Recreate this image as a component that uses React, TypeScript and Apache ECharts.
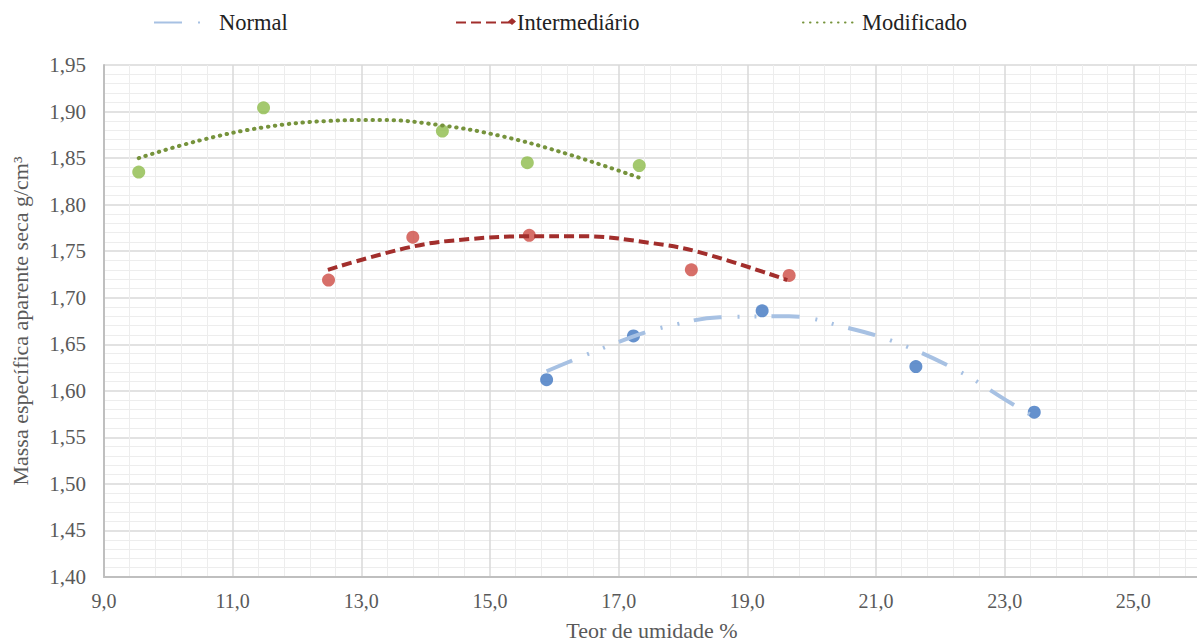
import React, { useEffect, useRef } from "react";
import * as echarts from "echarts";

// Measured points (Teor de umidade %, Massa específica g/cm³)
const normalX = [15.88, 17.23, 19.23, 21.62, 23.46];
const normalY = [1.612, 1.659, 1.686, 1.626, 1.577];
const interX = [12.49, 13.8, 15.61, 18.13, 19.65];
const interY = [1.719, 1.765, 1.767, 1.73, 1.724];
const modX = [9.54, 11.48, 14.26, 15.58, 17.32];
const modY = [1.835, 1.904, 1.879, 1.845, 1.842];

// Trendlines
const normalTrendX = [15.88, 17.21, 17.87, 18.57, 19.65, 20.54, 21.31, 22.29, 23.02, 23.46];
const normalTrendY = [1.621, 1.658, 1.671, 1.679, 1.68, 1.668, 1.652, 1.621, 1.59, 1.572];
const interTrendX = [12.48, 13.8, 14.68, 15.61, 16.44, 17.48, 18.25, 19.62];
const interTrendY = [1.73, 1.755, 1.763, 1.766, 1.766, 1.759, 1.749, 1.719];
const modTrendX = [9.54, 10.49, 11.48, 12.51, 13.29, 14.26, 15.15, 16.08, 17.32];
const modTrendY = [1.85, 1.869, 1.883, 1.89, 1.891, 1.885, 1.874, 1.857, 1.829];

const seriesNames = ["Normal", "Intermediário", "Modificado"];
const xTitle = "Teor de umidade %";
const yTitle = "Massa específica aparente seca g/cm³";

const zip = (xs: number[], ys: number[]) => xs.map((x, i) => [x, ys[i]]);

const FONT = "Liberation Serif";

export default function App() {
  const ref = useRef<HTMLDivElement>(null);
  useEffect(() => {
    if (!ref.current) return;
    const chart = echarts.init(ref.current, undefined, { renderer: "svg" });
    const legendBase = {
      top: 11,
      padding: 0,
      itemHeight: 14,
      selectedMode: false,
      itemStyle: { opacity: 0 },
      textStyle: { fontFamily: FONT, fontSize: 22.5, color: "#222222" },
    };
    chart.setOption({
      animation: false,
      textStyle: { fontFamily: FONT },
      legend: [
        { ...legendBase, data: [seriesNames[0]], left: 153, itemWidth: 48, textStyle: { ...legendBase.textStyle, padding: [0, 0, 0, 12] } },
        { ...legendBase, data: [seriesNames[1]], left: 455, itemWidth: 56 },
        { ...legendBase, data: [seriesNames[2]], left: 802, itemWidth: 54 },
      ],
      graphic: [
        {
          type: "text",
          x: 652,
          y: 619,
          style: {
            text: xTitle,
            fontFamily: FONT,
            fontSize: 22,
            fill: "#595959",
            textAlign: "center",
            textVerticalAlign: "top",
          },
        },
        {
          type: "polygon",
          shape: { points: [[512, 18], [516, 21.5], [512, 25], [508, 21.5]] },
          style: { fill: "#A22E2C" },
        },
      ],
      grid: { left: 104, right: 0, top: 65, bottom: 65, containLabel: false },
      xAxis: {
        type: "value",
        min: 9,
        max: 27,
        interval: 2,
        axisLine: { show: true, lineStyle: { color: "#BFBFBF", width: 2 } },
        axisTick: { show: false },
        axisLabel: {
          fontFamily: FONT,
          fontSize: 20,
          color: "#595959",
          margin: 14,
          showMaxLabel: false,
          formatter: (v: number) => v.toFixed(1).replace(".", ","),
        },
        splitLine: { show: true, lineStyle: { color: "#D9D9D9", width: 1.5 } },
        minorTick: { show: false, splitNumber: 5 },
        minorSplitLine: { show: true, lineStyle: { color: "#EDEDED", width: 1 } },
      },
      yAxis: {
        type: "value",
        min: 1.4,
        max: 1.95,
        interval: 0.05,
        name: yTitle,
        nameLocation: "middle",
        nameGap: 73,
        nameTextStyle: { fontFamily: FONT, fontSize: 22, color: "#595959" },
        axisLine: { show: true, lineStyle: { color: "#BFBFBF", width: 2 } },
        axisTick: { show: false },
        axisLabel: {
          fontFamily: FONT,
          fontSize: 21,
          color: "#595959",
          margin: 18,
          formatter: (v: number) => v.toFixed(2).replace(".", ","),
        },
        splitLine: { show: true, lineStyle: { color: "#D9D9D9", width: 1.5 } },
        minorTick: { show: false, splitNumber: 5 },
        minorSplitLine: { show: true, lineStyle: { color: "#EDEDED", width: 1 } },
      },
      series: [
        {
          name: "Normal (dados)",
          type: "scatter",
          data: zip(normalX, normalY),
          symbolSize: 13,
          itemStyle: { color: "#3F76C1" },
          z: 2,
          silent: true,
        },
        {
          name: "Intermediário (dados)",
          type: "scatter",
          data: zip(interX, interY),
          symbolSize: 13,
          itemStyle: { color: "#CD4B43" },
          z: 2,
          silent: true,
        },
        {
          name: "Modificado (dados)",
          type: "scatter",
          data: zip(modX, modY),
          symbolSize: 13,
          itemStyle: { color: "#8DBB4A" },
          z: 2,
          silent: true,
        },
        {
          name: seriesNames[0],
          type: "line",
          data: zip(normalTrendX, normalTrendY),
          smooth: 0.4,
          symbol: "none",
          z: 3,
          silent: true,
          itemStyle: { color: "#A7C1E3" },
          lineStyle: { color: "#A7C1E3", width: 4, type: [28, 16, 2, 15, 2, 15], cap: "butt" },
        },
        {
          name: seriesNames[1],
          type: "line",
          data: zip(interTrendX, interTrendY),
          smooth: 0.4,
          symbol: "none",
          z: 3,
          silent: true,
          itemStyle: { color: "#A22E2C" },
          lineStyle: { color: "#A22E2C", width: 4, type: [10, 5], cap: "butt" },
        },
        {
          name: seriesNames[2],
          type: "line",
          data: zip(modTrendX, modTrendY),
          smooth: 0.4,
          symbol: "none",
          z: 3,
          silent: true,
          itemStyle: { color: "#76933C" },
          lineStyle: { color: "#76933C", width: 4, type: [0.5, 6.5], cap: "round" },
        },
      ],
    });
    return () => chart.dispose();
  }, []);
  return (
    <div
      ref={ref}
      style={{ position: "fixed", left: 0, top: 0, width: 1262, height: 642, background: "#fff" }}
    />
  );
}
